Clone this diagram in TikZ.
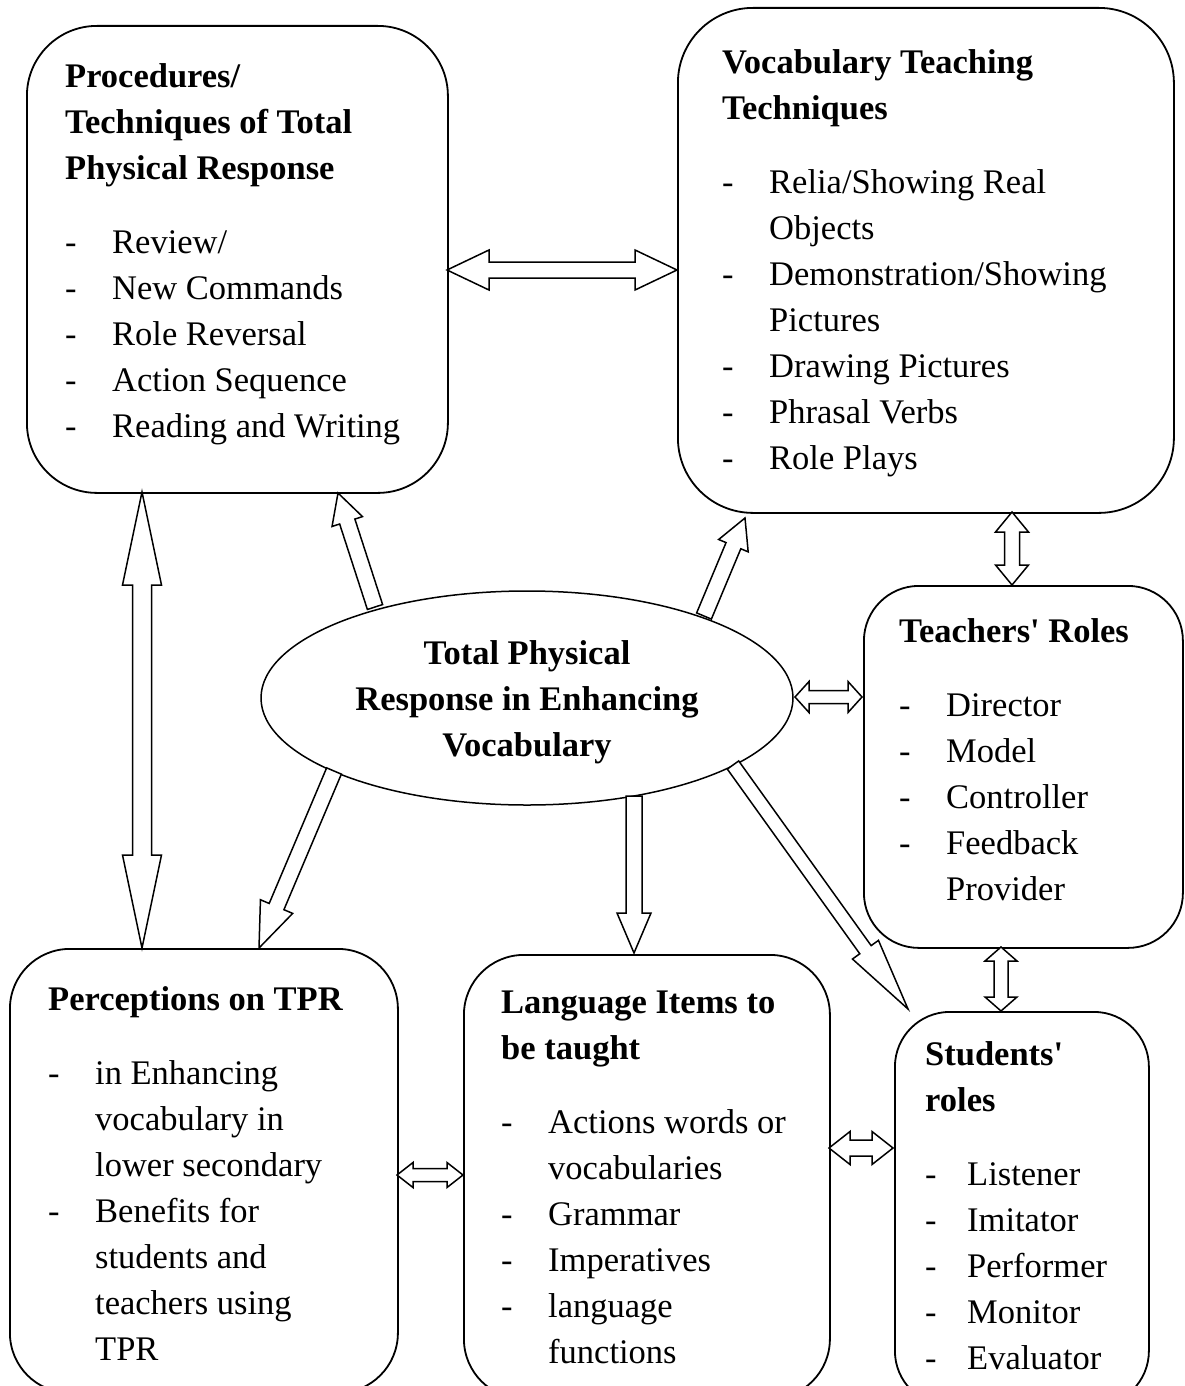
\documentclass[tikz,border=0pt]{standalone}
\usepackage{fontspec}
\setmainfont{Liberation Serif}
\usetikzlibrary{calc,shapes.geometric}
\tikzset{
  rbox/.style={draw, line width=1.8pt, rectangle, inner sep=0pt, anchor=north west},
  txt/.style={anchor=north west, inner sep=0pt, align=left, font=\fontsize{34.5}{46}\selectfont},
  blockarrow/.style={draw, fill=white, line width=1.5pt, line join=miter},
}
\newcommand\sarrow[5]{%
  \coordinate (tmpH) at ($(#2)!#5!(#1)$);
  \draw[blockarrow] ($(#1)!#3!90:(#2)$) -- ($(tmpH)!#3!90:(#2)$) -- ($(tmpH)!#4!90:(#2)$) -- (#2)
    -- ($(tmpH)!#4!-90:(#2)$) -- ($(tmpH)!#3!-90:(#2)$) -- ($(#1)!#3!-90:(#2)$) -- cycle;}
\newcommand\darrow[5]{%
  \coordinate (tmpP) at ($(#1)!#5!(#2)$);
  \coordinate (tmpQ) at ($(#2)!#5!(#1)$);
  \draw[blockarrow] (#1) -- ($(tmpP)!#4!90:(#2)$) -- ($(tmpP)!#3!90:(#2)$) -- ($(tmpQ)!#3!90:(#2)$)
    -- ($(tmpQ)!#4!90:(#2)$) -- (#2) -- ($(tmpQ)!#4!-90:(#2)$) -- ($(tmpQ)!#3!-90:(#2)$)
    -- ($(tmpP)!#3!-90:(#2)$) -- ($(tmpP)!#4!-90:(#2)$) -- cycle;}
\newcommand\itm[2][47pt]{\makebox[#1][l]{-}#2}
\newcommand\cnt[1]{\makebox[47pt]{}#1}
\begin{document}
\begin{tikzpicture}[x=1pt,y=-1pt]
\useasboundingbox (0,0) rectangle (1184,1386);
\clip (0,0) rectangle (1184,1386);
% boxes
\node[rbox, minimum width=421pt, minimum height=467pt, rounded corners=70pt] (A) at (26,25) {};
\node[rbox, minimum width=496pt, minimum height=505pt, rounded corners=75pt] (B) at (677,7) {};
\node[rbox, minimum width=319pt, minimum height=362pt, rounded corners=55pt] (C) at (863,585) {};
\node[rbox, minimum width=388pt, minimum height=444pt, rounded corners=60pt] (D) at (9,948) {};
\node[rbox, minimum width=366pt, minimum height=444pt, rounded corners=60pt] (E) at (463,954) {};
\node[rbox, minimum width=254pt, minimum height=394pt, rounded corners=55pt] (F) at (894,1011) {};
\node[draw, ellipse, line width=1.5pt, minimum width=532pt, minimum height=214pt, inner sep=0pt,
  align=center, font=\bfseries\fontsize{34.5}{46}\selectfont] (M) at (527,698)
  {\strut Total Physical\\Response in Enhancing\\Vocabulary};
% texts
\node[txt] (At) at (65,55) {\strut\textbf{Procedures/}\\\textbf{Techniques of Total}\\\textbf{Physical Response}\\[28pt]%
  \itm{Review/}\\\itm{New Commands}\\\itm{Role Reversal}\\\itm{Action Sequence}\\\itm{Reading and Writing}};
\node[txt] (Bt) at (722,41) {\strut\textbf{Vocabulary Teaching}\\\textbf{Techniques}\\[28pt]%
  \itm{Relia/Showing Real}\\\cnt{Objects}\\\itm{Demonstration/Showing}\\\cnt{Pictures}\\\itm{Drawing Pictures}\\\itm{Phrasal Verbs}\\\itm{Role Plays}};
\node[txt] (Ct) at (899,610) {\strut\textbf{Teachers\textquotesingle{} Roles}\\[28pt]%
  \itm{Director}\\\itm{Model}\\\itm{Controller}\\\itm{Feedback}\\\cnt{Provider}};
\node[txt] (Dt) at (48,978) {\strut\textbf{Perceptions on TPR}\\[28pt]%
  \itm{in Enhancing}\\\cnt{vocabulary in}\\\cnt{lower secondary}\\\itm{Benefits for}\\\cnt{students and}\\\cnt{teachers using}\\\cnt{TPR}};
\node[txt] (Et) at (501,981) {\strut\textbf{Language Items to}\\\textbf{be taught}\\[28pt]%
  \itm{Actions words or}\\\cnt{vocabularies}\\\itm{Grammar}\\\itm{Imperatives}\\\itm{language}\\\cnt{functions}};
\node[txt] (Ft) at (925,1033) {\strut\textbf{Students\textquotesingle}\\\textbf{roles}\\[28pt]%
  \itm[42pt]{Listener}\\\itm[42pt]{Imitator}\\\itm[42pt]{Performer}\\\itm[42pt]{Monitor}\\\itm[42pt]{Evaluator}};
% arrow end points
\coordinate (mA) at (375,607); \coordinate (tA) at (338,493);
\coordinate (mB) at (704,616); \coordinate (tB) at (745,518);
\coordinate (mD) at (334,771); \coordinate (tD) at (259,948);
\coordinate (mE) at (634,796); \coordinate (tE) at (634,953);
\coordinate (mF) at (733,765); \coordinate (tF) at (908,1009);
\coordinate (ab1) at (447,270); \coordinate (ab2) at (677,270);
\coordinate (ad1) at (142,492); \coordinate (ad2) at (142,948);
\coordinate (bc1) at (1012,512); \coordinate (bc2) at (1012,585);
\coordinate (mc1) at (795,697); \coordinate (mc2) at (862,697);
\coordinate (cf1) at (1001,947); \coordinate (cf2) at (1001,1011);
\coordinate (de1) at (397,1175); \coordinate (de2) at (463,1175);
\coordinate (ef1) at (829,1148); \coordinate (ef2) at (893,1148);
% single arrows from the ellipse
\sarrow{mA}{tA}{8pt}{16pt}{30pt}
\sarrow{mB}{tB}{8pt}{16pt}{30pt}
\sarrow{mD}{tD}{8pt}{17.5pt}{45pt}
\sarrow{mE}{tE}{8pt}{17pt}{40pt}
\sarrow{mF}{tF}{7pt}{16pt}{73pt}
% double arrows
\darrow{ab1}{ab2}{8pt}{20pt}{42pt}
\darrow{ad1}{ad2}{9.5pt}{19.5pt}{93pt}
\darrow{bc1}{bc2}{7.5pt}{16.5pt}{20pt}
\darrow{mc1}{mc2}{6.5pt}{15.5pt}{14pt}
\darrow{cf1}{cf2}{7pt}{16pt}{14pt}
\darrow{de1}{de2}{6.5pt}{12.5pt}{16pt}
\darrow{ef1}{ef2}{8pt}{16.5pt}{21pt}
\end{tikzpicture}
\end{document}
